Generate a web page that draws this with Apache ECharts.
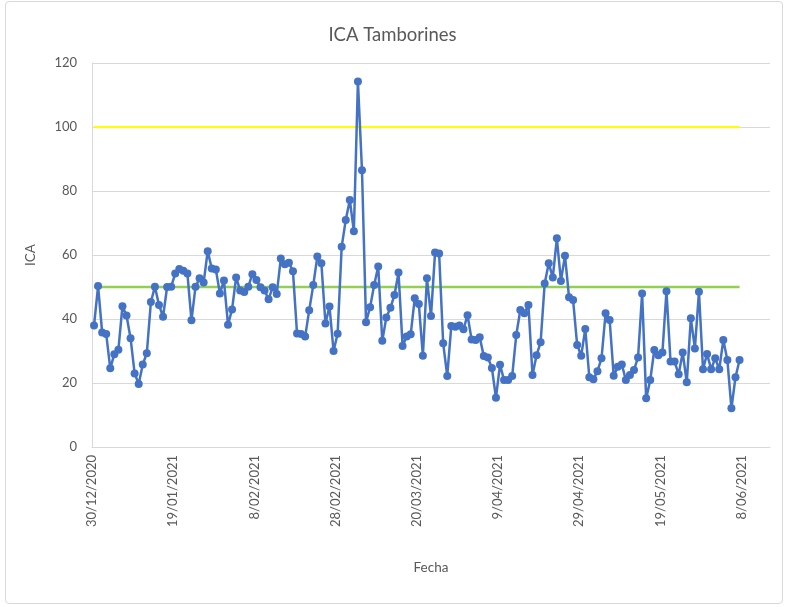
<!DOCTYPE html>
<html>
<head>
<meta charset="utf-8">
<script src="https://cdn.jsdelivr.net/npm/echarts@6/dist/echarts.min.js"></script>
<style>
  html, body { margin: 0; padding: 0; background: #fff; }
  .marco {
    position: absolute; left: 5px; top: 1px;
    width: 776px; height: 601px;
    border: 1px solid #d9d9d9; border-radius: 4px;
  }
  #main { position: absolute; left: 0; top: 0; width: 785px; height: 607px; }
</style>
</head>
<body>
<div class="marco"></div>
<div id="main"></div>
<script>
// fecha inicial de la serie (un dato por día)
var inicio = Date.UTC(2020, 11, 30);

// ICA diario
var ica = [
  38.0, 50.3, 35.8, 35.3, 24.6, 29.0, 30.4, 44.0, 41.1, 34.0, 23.0, 19.7, 25.8, 29.3, 45.3, 50.1, 44.4, 40.7, 50.0, 50.1,
  54.2, 55.6, 55.1, 54.2, 39.6, 50.1, 52.7, 51.4, 61.2, 55.8, 55.5, 48.0, 52.0, 38.2, 43.0, 53.0, 48.9, 48.4, 50.1, 54.0,
  52.2, 49.9, 48.9, 46.2, 49.9, 47.8, 58.9, 57.1, 57.6, 54.9, 35.5, 35.3, 34.5, 42.7, 50.6, 59.5, 57.4, 38.6, 43.9, 30.0,
  35.4, 62.6, 70.9, 77.2, 67.4, 114.2, 86.5, 39.0, 43.7, 50.6, 56.4, 33.2, 40.5, 43.5, 47.5, 54.5, 31.6, 34.5, 35.2, 46.5,
  44.7, 28.5, 52.7, 40.9, 60.8, 60.5, 32.4, 22.2, 37.8, 37.6, 38.0, 36.8, 41.2, 33.6, 33.4, 34.3, 28.4, 28.0, 24.7, 15.4,
  25.7, 20.9, 20.9, 22.2, 35.0, 42.8, 41.8, 44.4, 22.5, 28.7, 32.7, 51.1, 57.4, 53.0, 65.2, 51.9, 59.8, 46.8, 45.9, 31.9,
  28.5, 36.9, 21.8, 21.2, 23.7, 27.7, 41.8, 39.7, 22.3, 25.1, 25.8, 20.9, 22.5, 24.1, 28.0, 48.0, 15.2, 20.9, 30.3, 28.7,
  29.5, 48.7, 26.7, 26.7, 22.7, 29.5, 20.2, 40.2, 30.8, 48.5, 24.3, 29.1, 24.3, 27.7, 24.3, 33.4, 27.2, 12.1, 21.8, 27.2
];

// límites horizontales
var limiteVerde = 50;
var limiteAmarillo = 100;

// eje Y
var yTicks = [0, 20, 40, 60, 80, 100, 120];

// fechas (categorías) de cada dato
var fechas = [];
function fmtFecha(ms) {
  var d = new Date(ms);
  var dd = d.getUTCDate();
  var mm = d.getUTCMonth() + 1;
  return dd + '/' + (mm < 10 ? '0' + mm : mm) + '/' + d.getUTCFullYear();
}
for (var i = 0; i < ica.length; i++) {
  fechas.push(fmtFecha(inicio + i * 86400000));
}

var DIA = 86400000;
var serieIca = ica.map(function (v, i) { return [i + 0.5, v]; });
var serieVerde = fechas.map(function (f, i) { return [i + 0.5, limiteVerde]; });
var serieAmarilla = fechas.map(function (f, i) { return [i + 0.5, limiteAmarillo]; });

var fuente = 'Lato';
var gris = '#595959';

var myChart = echarts.init(document.getElementById('main'));
myChart.setOption({
  animation: false,
  textStyle: { fontFamily: fuente },
  title: {
    text: 'ICA Tamborines',
    left: 'center',
    top: 21,
    textStyle: { fontFamily: fuente, fontSize: 18.5, fontWeight: 'normal', color: gris }
  },
  grid: { left: 92, right: 15, top: 63, bottom: 160 },
  xAxis: {
    type: 'value',
    min: 0,
    max: 167,
    interval: 20,
    name: 'Fecha',
    nameLocation: 'middle',
    nameGap: 114,
    nameTextStyle: { fontFamily: fuente, fontSize: 13.5, color: gris },
    axisLine: { show: true, lineStyle: { color: '#d9d9d9', width: 1 } },
    axisTick: { show: false },
    splitLine: { show: false },
    axisLabel: {
      rotate: 90,
      margin: 8,
      fontFamily: fuente,
      fontSize: 13,
      color: gris,
      showMaxLabel: false,
      formatter: function (v) {
        if (v % 20 !== 0) return '';
        return fmtFecha(inicio + v * DIA);
      }
    }
  },
  yAxis: {
    type: 'value',
    min: yTicks[0],
    max: yTicks[yTicks.length - 1],
    interval: 20,
    name: 'ICA',
    nameLocation: 'middle',
    nameGap: 54,
    nameRotate: 90,
    nameTextStyle: { fontFamily: fuente, fontSize: 13.5, color: gris },
    axisLine: { show: true, lineStyle: { color: '#d9d9d9', width: 1 } },
    axisTick: { show: false },
    axisLabel: { margin: 15, fontFamily: fuente, fontSize: 13, color: gris },
    splitLine: { lineStyle: { color: '#d9d9d9', width: 1 } }
  },
  series: [
    {
      name: 'Límite 100',
      type: 'line',
      data: serieAmarilla,
      showSymbol: false,
      lineStyle: { color: '#ffff00', width: 2 },
      z: 2
    },
    {
      name: 'Límite 50',
      type: 'line',
      data: serieVerde,
      showSymbol: false,
      lineStyle: { color: '#92d050', width: 2.5 },
      z: 2
    },
    {
      name: 'ICA',
      type: 'line',
      data: serieIca,
      symbol: 'circle',
      symbolSize: 8,
      itemStyle: { color: '#4472c4' },
      lineStyle: { color: '#4472c4', width: 2.5 },
      z: 3
    }
  ]
});
</script>
</body>
</html>
